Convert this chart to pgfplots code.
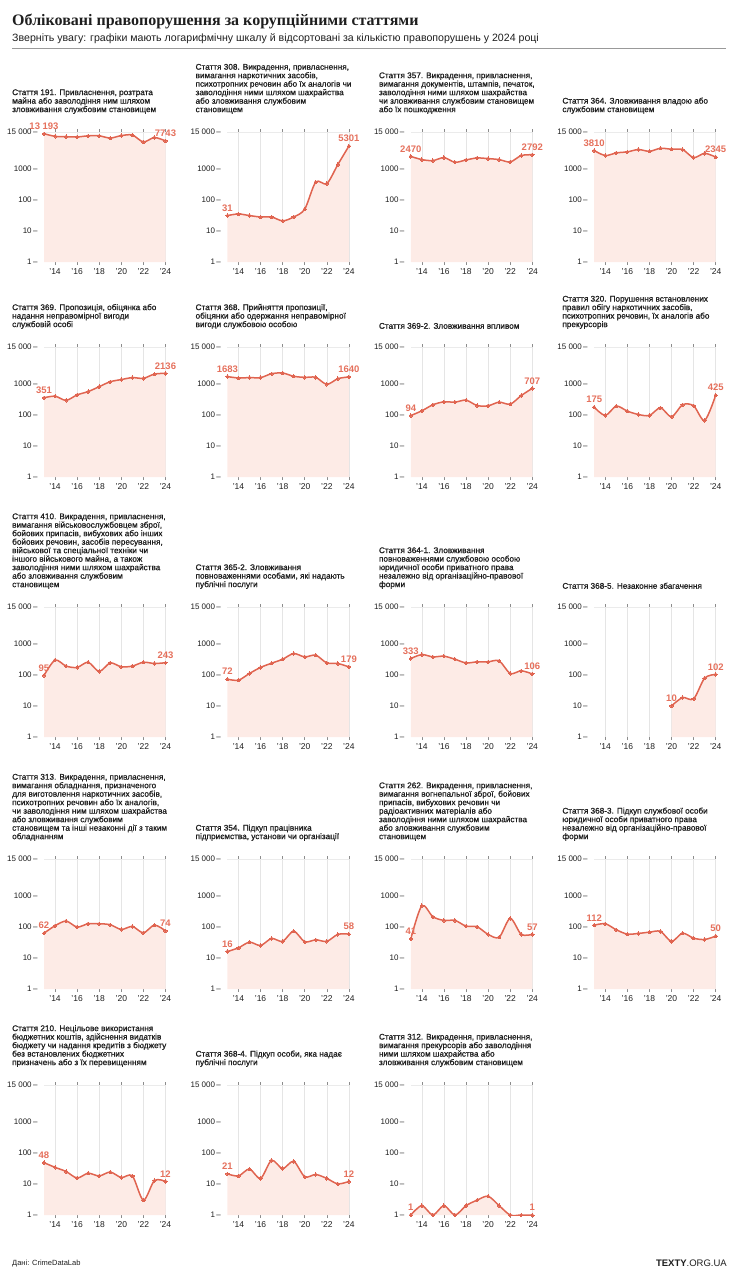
\documentclass[border=0pt]{standalone}
\usepackage{pgfplots}
\pgfplotsset{compat=1.18}
\usepackage{fontspec}
\setmainfont{Liberation Sans}
\newfontfamily\medfont{Liberation Sans}[FakeBold=1]
\newfontfamily\serifbf{Liberation Serif}
\definecolor{lc}{RGB}{224,100,80}
\definecolor{lt}{RGB}{229,112,92}
\definecolor{fc}{RGB}{253,235,230}
\definecolor{tc}{RGB}{30,30,30}
\tikzset{vl/.style={anchor=south, inner sep=0pt, yshift=4pt, text=lt, font=\bfseries\fontsize{9.5}{10}\selectfont},
  ttl/.style={anchor=south west, inner sep=0pt, align=left, text=tc, font=\medfont\fontsize{8.2}{8.5}\selectfont}}
\newcommand\vlab[3]{\node[vl] at (axis cs:#1,#2) {#3};}
\newcommand\mypanel[5]{%
  \node[ttl] at (#1pt-32pt,-#2pt+18pt) {#3};
  \begin{axis}[at={(#1pt,-#2pt)}, anchor=north west,
    scale only axis, width=121.5pt, height=130pt,
    ymode=log, xmin=2013, xmax=2024, ymin=1, ymax=15000,
    axis line style={draw=none},
    xtick={2014,2016,2018,2020,2022,2024}, xticklabels={’14,’16,’18,’20,’22,’24},
    ytick={1,10,100,1000,15000}, yticklabels={1\,–,10\,–,100\,–,1000\,–,15 000\,–},
    xmajorgrids, grid style={draw=black!10, line width=0.5pt},
    xtick style={draw=black!45, line width=0.5pt}, ytick style={draw=none},
    tick align=outside, major tick length=3pt,
    xticklabel style={font=\fontsize{8.5}{9}\selectfont, text=tc},
    yticklabel style={font=\fontsize{8}{9}\selectfont, text=tc},
    clip mode=individual]
    \addplot[draw=none, fill=fc, smooth, tension=0.5] coordinates {#4} \closedcycle;
    \draw[black!8, line width=0.5pt] (rel axis cs:0,1) -- (rel axis cs:1,1);
    \addplot[lc, line width=1.5pt, smooth, tension=0.5, mark=*, mark size=1.7pt, mark options={fill=lc, draw=lc, line width=0pt}] coordinates {#4};
    #5
  \end{axis}}
\begin{document}
\begin{tikzpicture}
\useasboundingbox (0,0) rectangle (738pt,-1280pt);
\node[anchor=base west, inner sep=0, font=\serifbf\bfseries\fontsize{16}{17}\selectfont, text=tc] at (12pt,-25pt) {Обліковані правопорушення за корупційними статтями};
\node[anchor=base west, inner sep=0, font=\fontsize{10.6}{11}\selectfont, text=tc] at (12pt,-41pt) {Зверніть увагу: графіки мають логарифмічну шкалу й відсортовані за кількістю правопорушень у 2024 році};
\draw[black!40, line width=0.7pt] (12pt,-48pt) -- (726pt,-48pt);

% Row 1
\mypanel{44}{132}{Стаття 191. Привласнення, розтрата\\майна або заволодіння ним шляхом\\зловживання службовим становищем}
{(2013,13193)(2014,10900)(2015,10600)(2016,10400)(2017,11300)(2018,11300)(2019,9600)(2020,11500)(2021,12000)(2022,7200)(2023,10000)(2024,7743)}
{\vlab{2013}{13193}{13 193}\vlab{2024}{7743}{7743}}
\mypanel{227.4}{132}{Стаття 308. Викрадення, привласнення,\\вимагання наркотичних засобів,\\психотропних речовин або їх аналогів чи\\заволодіння ними шляхом шахрайства\\або зловживання службовим\\становищем}
{(2013,31)(2014,35)(2015,31)(2016,28)(2017,28)(2018,21)(2019,28)(2020,50)(2021,370)(2022,330)(2023,1350)(2024,5301)}
{\vlab{2013}{31}{31}\vlab{2024}{5301}{5301}}
\mypanel{410.8}{132}{Стаття 357. Викрадення, привласнення,\\вимагання документів, штампів, печаток,\\заволодіння ними шляхом шахрайства\\чи зловживання службовим становищем\\або їх пошкодження}
{(2013,2470)(2014,1950)(2015,1810)(2016,2260)(2017,1600)(2018,1900)(2019,2200)(2020,2100)(2021,1950)(2022,1640)(2023,2630)(2024,2792)}
{\vlab{2013}{2470}{2470}\vlab{2024}{2792}{2792}}
\mypanel{594.2}{132}{Стаття 364. Зловживання владою або\\службовим становищем}
{(2013,3810)(2014,2630)(2015,3200)(2016,3450)(2017,4100)(2018,3600)(2019,4500)(2020,4200)(2021,4100)(2022,2260)(2023,3100)(2024,2345)}
{\vlab{2013}{3810}{3810}\vlab{2024}{2345}{2345}}

% Row 2
\mypanel{44}{347}{Стаття 369. Пропозиція, обіцянка або\\надання неправомірної вигоди\\службовій особі}
{(2013,351)(2014,395)(2015,290)(2016,435)(2017,555)(2018,800)(2019,1150)(2020,1350)(2021,1560)(2022,1480)(2023,2030)(2024,2136)}
{\vlab{2013}{351}{351}\vlab{2024}{2136}{2136}}
\mypanel{227.4}{347}{Стаття 368. Прийняття пропозиції,\\обіцянки або одержання неправомірної\\вигоди службовою особою}
{(2013,1683)(2014,1520)(2015,1560)(2016,1560)(2017,2080)(2018,2190)(2019,1720)(2020,1590)(2021,1590)(2022,950)(2023,1440)(2024,1640)}
{\vlab{2013}{1683}{1683}\vlab{2024}{1640}{1640}}
\mypanel{410.8}{347}{Стаття 369-2. Зловживання впливом}
{(2013,94)(2014,134)(2015,209)(2016,260)(2017,254)(2018,294)(2019,198)(2020,194)(2021,254)(2022,219)(2023,414)(2024,707)}
{\vlab{2013}{94}{94}\vlab{2024}{707}{707}}
\mypanel{594.2}{347}{Стаття 320. Порушення встановлених\\правил обігу наркотичних засобів,\\психотропних речовин, їх аналогів або\\прекурсорів}
{(2013,175)(2014,95)(2015,189)(2016,131)(2017,102)(2018,95)(2019,167)(2020,86)(2021,209)(2022,194)(2023,66)(2024,425)}
{\vlab{2013}{175}{175}\vlab{2024}{425}{425}}

% Row 3
\mypanel{44}{607}{Стаття 410. Викрадення, привласнення,\\вимагання військовослужбовцем зброї,\\бойових припасів, вибухових або інших\\бойових речовин, засобів пересування,\\військової та спеціальної техніки чи\\іншого військового майна, а також\\заволодіння ними шляхом шахрайства\\або зловживання службовим\\становищем}
{(2013,95)(2014,295)(2015,190)(2016,172)(2017,252)(2018,128)(2019,240)(2020,180)(2021,190)(2022,252)(2023,230)(2024,243)}
{\vlab{2013}{95}{95}\vlab{2024}{243}{243}}
\mypanel{227.4}{607}{Стаття 365-2. Зловживання\\повноваженнями особами, які надають\\публічні послуги}
{(2013,72)(2014,67)(2015,110)(2016,172)(2017,235)(2018,315)(2019,480)(2020,375)(2021,425)(2022,240)(2023,230)(2024,179)}
{\vlab{2013}{72}{72}\vlab{2024}{179}{179}}
\mypanel{410.8}{607}{Стаття 364-1. Зловживання\\повноваженнями службовою особою\\юридичної особи приватного права\\незалежно від організаційно-правової\\форми}
{(2013,333)(2014,445)(2015,375)(2016,395)(2017,315)(2018,240)(2019,260)(2020,260)(2021,280)(2022,110)(2023,134)(2024,106)}
{\vlab{2013}{333}{333}\vlab{2024}{106}{106}}
\mypanel{594.2}{607}{Стаття 368-5. Незаконне збагачення}
{(2020,10)(2021,18.5)(2022,16.8)(2023,78)(2024,102)}
{\vlab{2020}{10}{10}\vlab{2024}{102}{102}}

% Row 4
\mypanel{44}{859}{Стаття 313. Викрадення, привласнення,\\вимагання обладнання, призначеного\\для виготовлення наркотичних засобів,\\психотропних речовин або їх аналогів,\\чи заволодіння ним шляхом шахрайства\\або зловживання службовим\\становищем та інші незаконні дії з таким\\обладнанням}
{(2013,62)(2014,108)(2015,152)(2016,98)(2017,125)(2018,125)(2019,116)(2020,82)(2021,102)(2022,64)(2023,113)(2024,74)}
{\vlab{2013}{62}{62}\vlab{2024}{74}{74}}
\mypanel{227.4}{859}{Стаття 354. Підкуп працівника\\підприємства, установи чи організації}
{(2013,16)(2014,21)(2015,32)(2016,25)(2017,42)(2018,34)(2019,72)(2020,33)(2021,38)(2022,34)(2023,57)(2024,58)}
{\vlab{2013}{16}{16}\vlab{2024}{58}{58}}
\mypanel{410.8}{859}{Стаття 262. Викрадення, привласнення,\\вимагання вогнепальної зброї, бойових\\припасів, вибухових речовин чи\\радіоактивних матеріалів або\\заволодіння ними шляхом шахрайства\\або зловживання службовим\\становищем}
{(2013,41)(2014,475)(2015,210)(2016,160)(2017,160)(2018,105)(2019,100)(2020,57)(2021,46)(2022,185)(2023,57)(2024,57)}
{\vlab{2013}{41}{41}\vlab{2024}{57}{57}}
\mypanel{594.2}{859}{Стаття 368-3. Підкуп службової особи\\юридичної особи приватного права\\незалежно від організаційно-правової\\форми}
{(2013,112)(2014,125)(2015,80)(2016,58)(2017,61)(2018,67)(2019,71)(2020,34)(2021,62)(2022,43)(2023,39)(2024,50)}
{\vlab{2013}{112}{112}\vlab{2024}{50}{50}}

% Row 5
\mypanel{44}{1085}{Стаття 210. Нецільове використання\\бюджетних коштів, здійснення видатків\\бюджету чи надання кредитів з бюджету\\без встановлених бюджетних\\призначень або з їх перевищенням}
{(2013,48)(2014,34)(2015,25)(2016,15.5)(2017,22)(2018,18)(2019,24)(2020,16)(2021,18)(2022,3)(2023,12.8)(2024,12)}
{\vlab{2013}{48}{48}\vlab{2024}{12}{12}}
\mypanel{227.4}{1085}{Стаття 368-4. Підкуп особи, яка надає\\публічні послуги}
{(2013,21)(2014,18)(2015,30)(2016,15)(2017,57)(2018,31)(2019,53)(2020,17)(2021,20)(2022,15)(2023,10)(2024,12)}
{\vlab{2013}{21}{21}\vlab{2024}{12}{12}}
\mypanel{410.8}{1085}{Стаття 312. Викрадення, привласнення,\\вимагання прекурсорів або заволодіння\\ними шляхом шахрайства або\\зловживання службовим становищем}
{(2013,1)(2014,2)(2015,1)(2016,2)(2017,1)(2018,2)(2019,3)(2020,4)(2021,2)(2022,1)(2023,1)(2024,1)}
{\vlab{2013}{1}{1}\vlab{2024}{1}{1}}

\node[anchor=base west, inner sep=0, font=\fontsize{7.5}{8}\selectfont, text=tc] at (12pt,-1265pt) {Дані: CrimeDataLab};
\node[anchor=base east, inner sep=0, font=\fontsize{9.5}{10}\selectfont, text=tc] at (727pt,-1266pt) {\textbf{TEXTY}.ORG.UA};
\end{tikzpicture}
\end{document}
